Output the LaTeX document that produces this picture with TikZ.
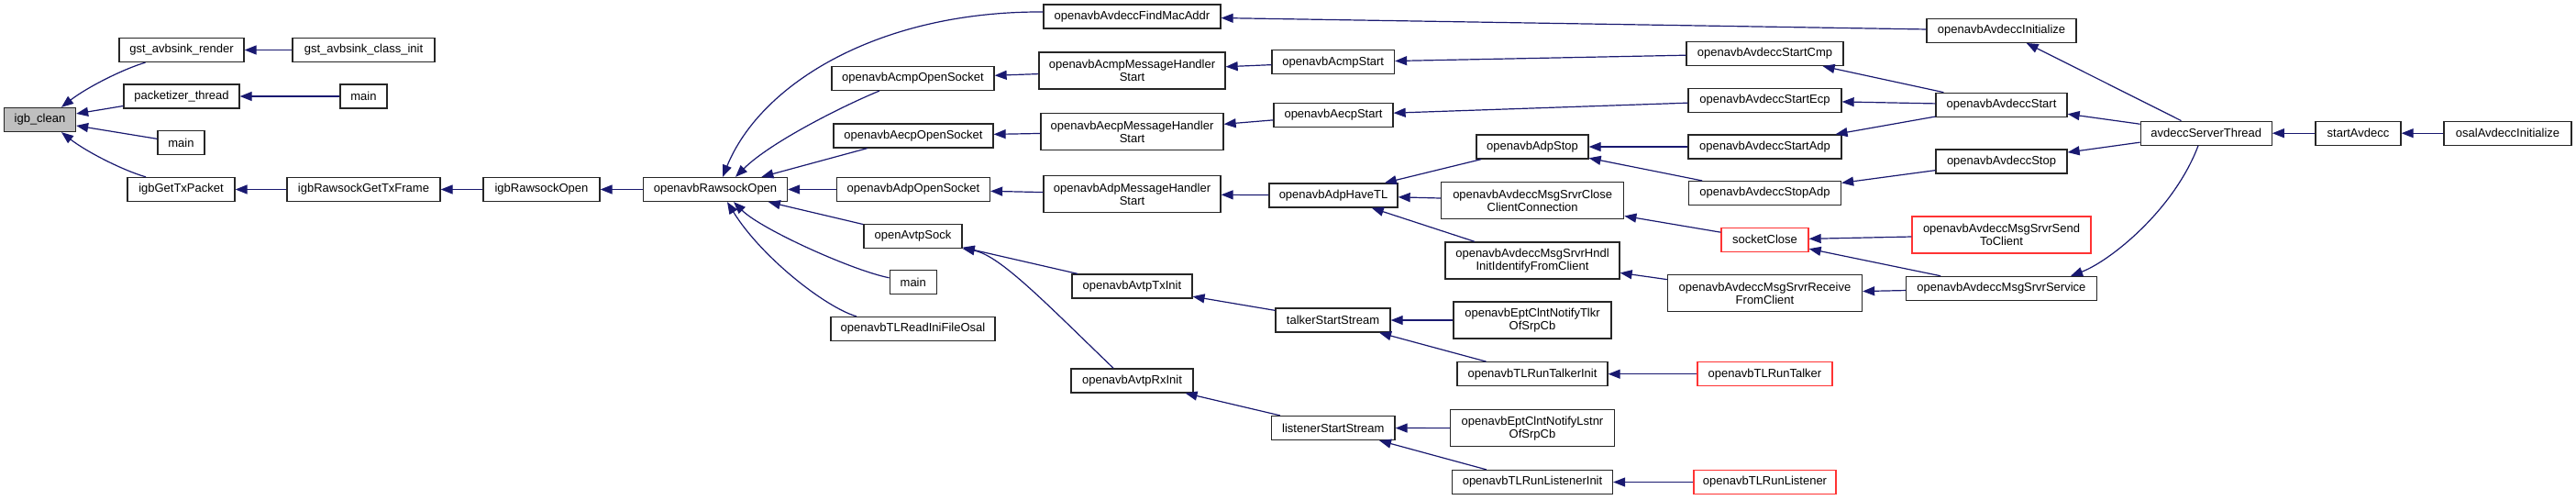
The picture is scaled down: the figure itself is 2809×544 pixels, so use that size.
\documentclass[tikz,border=0pt]{standalone}
\usepackage{fontspec}
\setmainfont{Liberation Sans}
\usetikzlibrary{arrows.meta}
\definecolor{edgeblue}{HTML}{191970}
\definecolor{nodegray}{HTML}{BFBFBF}
\definecolor{nodered}{HTML}{FF3333}
\definecolor{nodeline}{HTML}{262626}
\begin{document}
\begin{tikzpicture}[x=1pt,y=-1pt,
  box/.style={draw=nodeline, line width=1.3pt, fill=white, inner sep=0pt, align=center, minimum height=26pt, font=\fontsize{13}{14}\selectfont},
  tall/.style={minimum height=40pt},
  redbox/.style={draw=nodered},
  edge/.style={draw=edgeblue, line width=1.2pt, -{Triangle[length=13pt,width=10pt]}}
]
\fill[white] (0,0) rectangle (2809,544);
\useasboundingbox (0,0) rectangle (2809,544);

% column 0-4
\node[box, fill=nodegray, minimum width=78pt] (igbclean) at (43.5,130.5) {igb\_clean};
\node[box, minimum width=136pt] (gstrender) at (198,54.5) {gst\_avbsink\_render};
\node[box, minimum width=155pt] (gstinit) at (396.5,54.5) {gst\_avbsink\_class\_init};
\node[box, minimum width=126pt] (packet) at (198,105) {packetizer\_thread};
\node[box, minimum width=51pt] (mainA) at (396.5,105) {main};
\node[box, minimum width=51pt] (mainB) at (197.5,155.6) {main};
\node[box, minimum width=117pt] (getTx) at (197.5,206.5) {igbGetTxPacket};
\node[box, minimum width=167pt] (rawGetTx) at (396.5,206.5) {igbRawsockGetTxFrame};
\node[box, minimum width=127pt] (igbOpen) at (590.5,206.5) {igbRawsockOpen};
\node[box, minimum width=157pt] (rawOpen) at (780,206.5) {openavbRawsockOpen};

% column 5
\node[box, minimum width=177pt] (acmpOpen) at (995.5,85.4) {openavbAcmpOpenSocket};
\node[box, minimum width=174pt] (aecpOpen) at (996,148) {openavbAecpOpenSocket};
\node[box, minimum width=167pt] (adpOpen) at (996,206.5) {openavbAdpOpenSocket};
\node[box, minimum width=107pt] (avtpSock) at (995.5,257.3) {openAvtpSock};
\node[box, minimum width=51pt] (mainC) at (995.75,307.8) {main};
\node[box, minimum width=179pt] (readIni) at (995.5,358.5) {openavbTLReadIniFileOsal};

% column 6
\node[box, minimum width=193pt] (findMac) at (1234.5,18) {openavbAvdeccFindMacAddr};
\node[box, tall, minimum width=203pt] (acmpMH) at (1234.5,77) {openavbAcmpMessageHandler\\Start};
\node[box, tall, minimum width=199pt] (aecpMH) at (1234.5,143.6) {openavbAecpMessageHandler\\Start};
\node[box, tall, minimum width=193pt] (adpMH) at (1234.5,211.7) {openavbAdpMessageHandler\\Start};
\node[box, minimum width=131pt] (txInit) at (1234.4,312) {openavbAvtpTxInit};
\node[box, minimum width=133pt] (rxInit) at (1234.5,414.9) {openavbAvtpRxInit};

% column 7
\node[box, minimum width=133.5pt] (acmpStart) at (1453.75,67.8) {openavbAcmpStart};
\node[box, minimum width=130pt] (aecpStart) at (1454,125.4) {openavbAecpStart};
\node[box, minimum width=140pt] (adpHaveTL) at (1454,213) {openavbAdpHaveTL};
\node[box, minimum width=125pt] (talkerSS) at (1453.5,349) {talkerStartStream};
\node[box, minimum width=134.4pt] (listenerSS) at (1453.8,466.5) {listenerStartStream};

% column 8
\node[box, minimum width=122pt] (adpStop) at (1671,160) {openavbAdpStop};
\node[box, tall, minimum width=199pt] (closeCC) at (1671.2,218.6) {openavbAvdeccMsgSrvrClose\\ClientConnection};
\node[box, tall, minimum width=190pt] (hndlInit) at (1671,283.9) {openavbAvdeccMsgSrvrHndl\\InitIdentifyFromClient};
\node[box, tall, minimum width=172pt] (tlkrCb) at (1671,349) {openavbEptClntNotifyTlkr\\OfSrpCb};
\node[box, minimum width=164pt] (runTalkerInit) at (1671,407.7) {openavbTLRunTalkerInit};
\node[box, tall, minimum width=179pt] (lstnrCb) at (1671,466.7) {openavbEptClntNotifyLstnr\\OfSrpCb};
\node[box, minimum width=175pt] (runListenerInit) at (1671,525.5) {openavbTLRunListenerInit};

% column 9
\node[box, minimum width=171pt] (startCmp) at (1924.5,58.5) {openavbAvdeccStartCmp};
\node[box, minimum width=167pt] (startEcp) at (1924.5,109.3) {openavbAvdeccStartEcp};
\node[box, minimum width=167pt] (startAdp) at (1924.5,160) {openavbAvdeccStartAdp};
\node[box, minimum width=166pt] (stopAdp) at (1924.5,210.6) {openavbAvdeccStopAdp};
\node[box, redbox, minimum width=95pt] (sockClose) at (1924.5,261.3) {socketClose};
\node[box, tall, minimum width=212pt] (recvFC) at (1924.5,319.7) {openavbAvdeccMsgSrvrReceive\\FromClient};
\node[box, redbox, minimum width=147pt] (runTalker) at (1924.5,407.7) {openavbTLRunTalker};
\node[box, redbox, minimum width=155pt] (runListener) at (1924.5,525.5) {openavbTLRunListener};

% column 10
\node[box, minimum width=163pt] (avInit) at (2182.5,33.3) {openavbAvdeccInitialize};
\node[box, minimum width=143pt] (avStart) at (2182.5,114.3) {openavbAvdeccStart};
\node[box, minimum width=143pt] (avStop) at (2182.5,176) {openavbAvdeccStop};
\node[box, tall, redbox, minimum width=195pt] (sendTC) at (2182.5,256) {openavbAvdeccMsgSrvrSend\\ToClient};
\node[box, minimum width=208pt] (service) at (2182.4,314.4) {openavbAvdeccMsgSrvrService};

% columns 11-13
\node[box, minimum width=143pt] (serverThread) at (2405.7,145.2) {avdeccServerThread};
\node[box, minimum width=93pt] (startAvdecc) at (2571.5,145.2) {startAvdecc};
\node[box, minimum width=139pt] (osalInit) at (2734.5,145.2) {osalAvdeccInitialize};

% edges into igb_clean
\draw[edge] ([xshift=-39.5pt]gstrender.south) .. controls (135,75) and (95,95) .. ([xshift=23.5pt]igbclean.north);
\draw[edge] (packet) -- (igbclean);
\draw[edge] (mainB) -- (igbclean);
\draw[edge] ([xshift=-38.5pt]getTx.north) .. controls (135,186) and (95,166) .. ([xshift=23.5pt]igbclean.south);
\draw[edge] (gstinit) -- (gstrender);
\draw[edge] (mainA) -- (packet);
\draw[edge] (rawGetTx) -- (getTx);
\draw[edge] (igbOpen) -- (rawGetTx);
\draw[edge] (rawOpen) -- (igbOpen);

% edges into openavbRawsockOpen
\draw[edge] ([yshift=5pt]findMac.west) .. controls (960,12) and (830,90) .. ([xshift=8pt]rawOpen.north);
\draw[edge] ([xshift=-36.5pt]acmpOpen.south) .. controls (920,115) and (840,155) .. ([xshift=22pt]rawOpen.north);
\draw[edge] (aecpOpen) -- (rawOpen);
\draw[edge] (adpOpen) -- (rawOpen);
\draw[edge] (avtpSock) -- (rawOpen);
\draw[edge] ([yshift=5pt]mainC.west) .. controls (930,295) and (830,250) .. ([xshift=20pt]rawOpen.south);
\draw[edge] ([xshift=-61.5pt]readIni.north) .. controls (900,335) and (830,280) .. ([xshift=13pt]rawOpen.south);

% column 6 -> 5
\draw[edge] (acmpMH) -- (acmpOpen);
\draw[edge] (aecpMH) -- (aecpOpen);
\draw[edge] (adpMH) -- (adpOpen);
\draw[edge] (txInit) -- (avtpSock);
\draw[edge] ([xshift=-20.5pt]rxInit.north) .. controls (1140,330) and (1090,278) .. (avtpSock.south east);

% column 7 -> 6
\draw[edge] (avInit) -- (findMac);
\draw[edge] (acmpStart) -- (acmpMH);
\draw[edge] (aecpStart) -- (aecpMH);
\draw[edge] (adpHaveTL) -- (adpMH);
\draw[edge] (talkerSS) -- (txInit);
\draw[edge] (listenerSS) -- (rxInit);

% column 8/9 -> 7
\draw[edge] (startCmp) -- (acmpStart);
\draw[edge] (startEcp) -- (aecpStart);
\draw[edge] (adpStop) -- (adpHaveTL);
\draw[edge] (closeCC) -- (adpHaveTL);
\draw[edge] (hndlInit) -- (adpHaveTL);
\draw[edge] (tlkrCb) -- (talkerSS);
\draw[edge] (runTalkerInit) -- (talkerSS);
\draw[edge] (lstnrCb) -- (listenerSS);
\draw[edge] (runListenerInit) -- (listenerSS);

% column 9 -> 8
\draw[edge] (startAdp) -- (adpStop);
\draw[edge] (stopAdp) -- (adpStop);
\draw[edge] (sockClose) -- (closeCC);
\draw[edge] (recvFC) -- (hndlInit);
\draw[edge] (runTalker) -- (runTalkerInit);
\draw[edge] (runListener) -- (runListenerInit);

% column 10 -> 9
\draw[edge] (avStart) -- (startCmp);
\draw[edge] (avStart) -- (startEcp);
\draw[edge] (avStart) -- (startAdp);
\draw[edge] (avStop) -- (stopAdp);
\draw[edge] (sendTC) -- (sockClose);
\draw[edge] (service) -- (sockClose);
\draw[edge] (service) -- (recvFC);

% column 11 -> 10
\draw[edge] (serverThread) -- (avInit);
\draw[edge] (serverThread) -- (avStart);
\draw[edge] (serverThread) -- (avStop);
\draw[edge] ([xshift=-8.7pt]serverThread.south) .. controls (2370,230) and (2300,285) .. ([xshift=75.6pt]service.north);
\draw[edge] (startAvdecc) -- (serverThread);
\draw[edge] (osalInit) -- (startAvdecc);
\end{tikzpicture}
\end{document}
